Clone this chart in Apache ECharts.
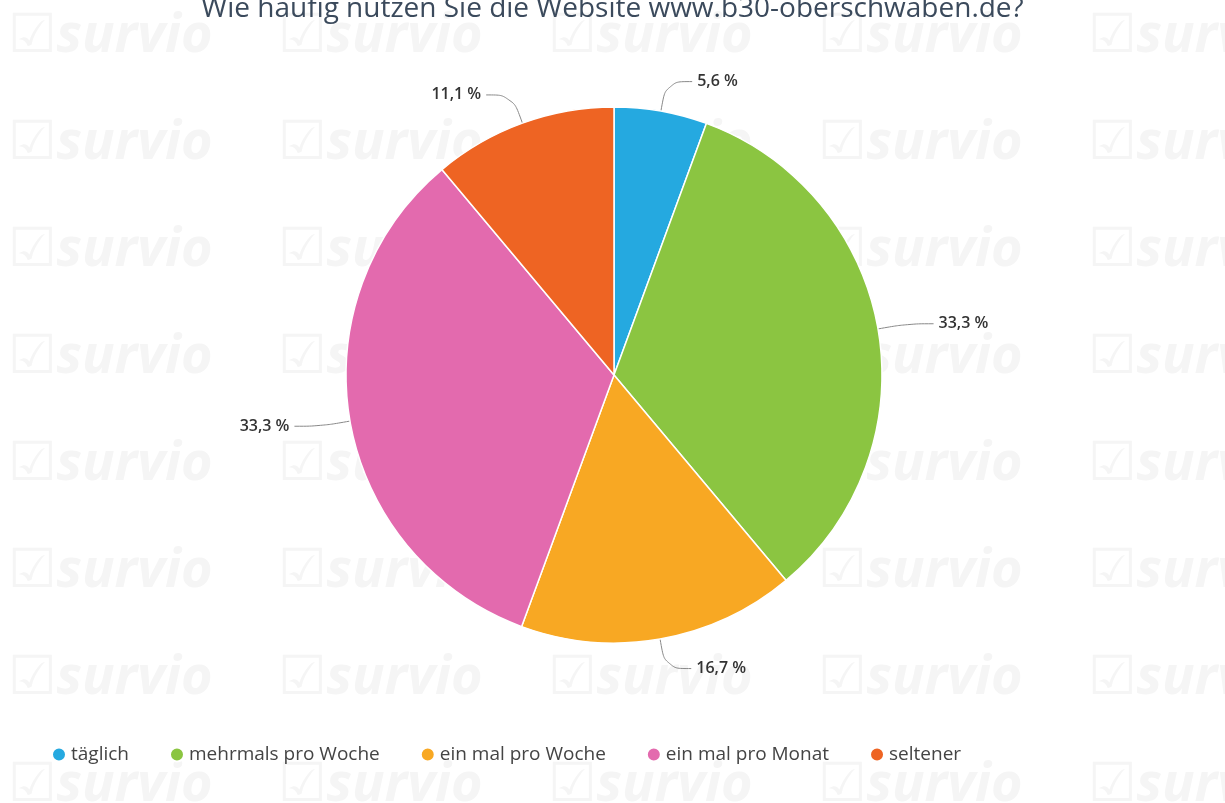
<!DOCTYPE html>
<html>
<head>
<meta charset="utf-8">
<script src="https://cdn.jsdelivr.net/npm/echarts@6/dist/echarts.min.js"></script>
<style>
  html, body { margin: 0; padding: 0; background: #fff; }
  #chart { width: 1225px; height: 803px; }
</style>
</head>
<body>
<div id="chart"></div>
<script>
// data
var categories = ['täglich', 'mehrmals pro Woche', 'ein mal pro Woche', 'ein mal pro Monat', 'seltener'];
var shares = [5.6, 33.3, 16.7, 33.3, 11.1];
var colors = ['#25a9e0', '#8bc541', '#f8a823', '#e36aae', '#ee6423'];
var titleText = 'Wie häufig nutzen Sie die Website www.b30-oberschwaben.de?';

var font = '"Open Sans", "DejaVu Sans", sans-serif';

// faint watermark grid
var watermark = [];
for (var r = 0; r < 8; r++) {
  for (var c = 0; c < 5; c++) {
    watermark.push({
      type: 'text',
      left: 8 + c * 270,
      top: 10 + r * 107,
      silent: true,
      z: -10,
      style: {
        text: '☑survio',
        fill: '#f5f5f5',
        font: 'italic bold 54px ' + font
      }
    });
  }
}

var chart = echarts.init(document.getElementById('chart'));
chart.setOption({
  color: colors,
  animation: false,
  title: {
    text: titleText,
    left: 'center',
    top: -10,
    textStyle: { color: '#3b4a5c', fontSize: 28, fontWeight: 'normal', fontFamily: font }
  },
  graphic: watermark,
  legend: {
    left: 46,
    top: 740,
    itemWidth: 14,
    itemHeight: 14,
    itemGap: 40,
    icon: 'circle',
    textStyle: { color: '#444', fontSize: 19, fontFamily: font },
    data: categories
  },
  series: [{
    type: 'pie',
    center: [614, 375],
    radius: [0, 268],
    startAngle: 90,
    clockwise: true,
    itemStyle: { borderColor: '#fff', borderWidth: 1.5 },
    label: {
      color: '#333',
      fontSize: 16,
      fontWeight: 600,
      fontFamily: font,
      formatter: function (p) { return String(p.value).replace('.', ',') + ' %'; }
    },
    labelLine: {
      length: 30,
      length2: 26,
      smooth: 0.4,
      lineStyle: { color: '#888', width: 1 }
    },
    data: categories.map(function (name, i) {
      return { name: name, value: shares[i] };
    })
  }]
});
</script>
</body>
</html>
